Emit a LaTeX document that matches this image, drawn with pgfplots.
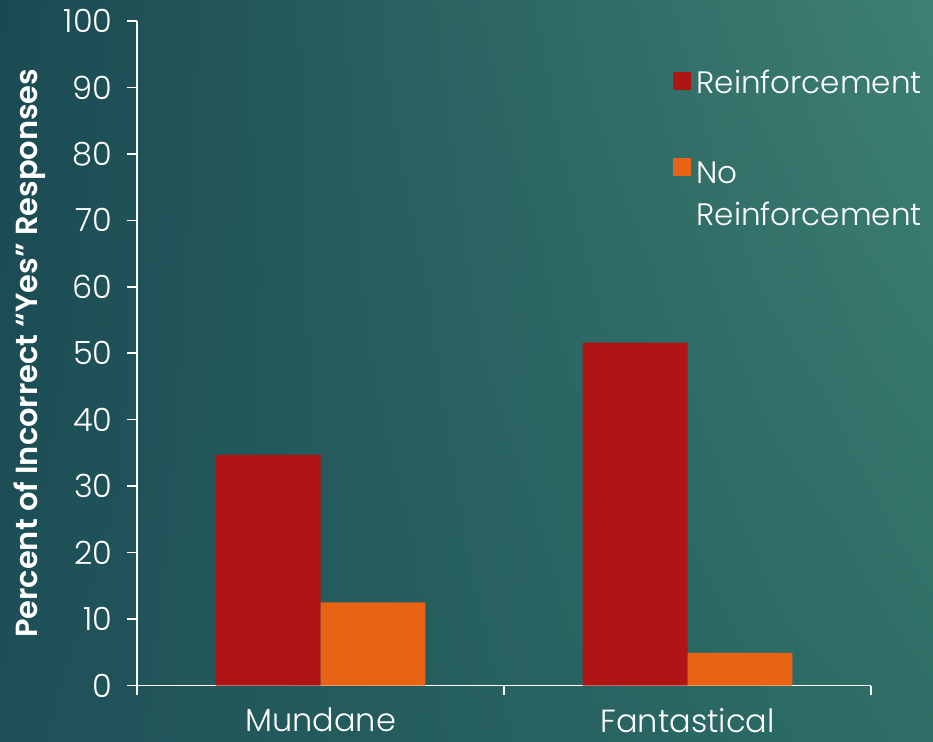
\documentclass[border=0pt]{standalone}
\usepackage{pgfplots}
\pgfplotsset{compat=1.18}
\usetikzlibrary{shadings}
\usepackage{fontspec}
\setmainfont{Poppins}[UprightFont=* Light, BoldFont=* SemiBold]

\definecolor{barred}{RGB}{175,21,20}
\definecolor{barorange}{RGB}{233,99,20}
\definecolor{bgtl}{RGB}{26,73,82}
\definecolor{bgtr}{RGB}{62,128,115}
\definecolor{bgbl}{RGB}{30,80,88}
\definecolor{bgbr}{RGB}{46,110,102}

\begin{document}
\begin{tikzpicture}
% slide background
\shade[upper left=bgtl, upper right=bgtr, lower left=bgbl, lower right=bgbr]
  (0pt,0pt) rectangle (933pt,741pt);
\begin{axis}[
  at={(137pt,55.5pt)}, anchor=south west,
  scale only axis, width=734pt, height=664.5pt,
  xmin=0, xmax=2, ymin=0, ymax=100,
  axis lines=left,
  axis line style={white, line width=1.6pt, -},
  every tick/.style={white, line width=1.6pt},
  tick align=outside,
  major tick length=10pt,
  ytick={0,10,...,100},
  xtick={0,1,2},
  xticklabels={},
  extra x ticks={0.5,1.5},
  extra x tick labels={Mundane,Fantastical},
  extra x tick style={major tick length=0pt, xticklabel style={yshift=-19pt}},
  /pgf/number format/assume math mode=true,
  tick label style={text=white, font=\fontsize{32}{38}\selectfont},
  yticklabel style={xshift=-11pt},
  ylabel={Percent of Incorrect “Yes” Responses},
  ylabel style={at={(axis description cs:-0.1458,0.5)}, anchor=center,
    text=white, font=\fontsize{30.5}{36}\selectfont\bfseries},
  ybar, bar width=0.286,
  legend style={at={(axis description cs:0.730,0.9295)}, anchor=north west,
    draw=none, fill=none, text=white, inner sep=0pt,
    font=\fontsize{31}{42}\selectfont, row sep=55pt,
    nodes={inner xsep=5.5pt}},
  legend cell align=left,
  legend image code/.code={\fill[#1] (0pt,-7pt) rectangle (18pt,11pt);},
]
\addplot[fill=barred, draw=none, bar shift=-0.143]
  coordinates {(0.5,34.7) (1.5,51.6)};
\addlegendentry{Reinforcement}
\addplot[fill=barorange, draw=none, bar shift=0.143]
  coordinates {(0.5,12.5) (1.5,4.9)};
\addlegendentry{\begin{tabular}[t]{@{}l@{}}No\\Reinforcement\end{tabular}}
\end{axis}
\pgfresetboundingbox
\useasboundingbox (0pt,0pt) rectangle (933pt,741pt);
\end{tikzpicture}
\end{document}
